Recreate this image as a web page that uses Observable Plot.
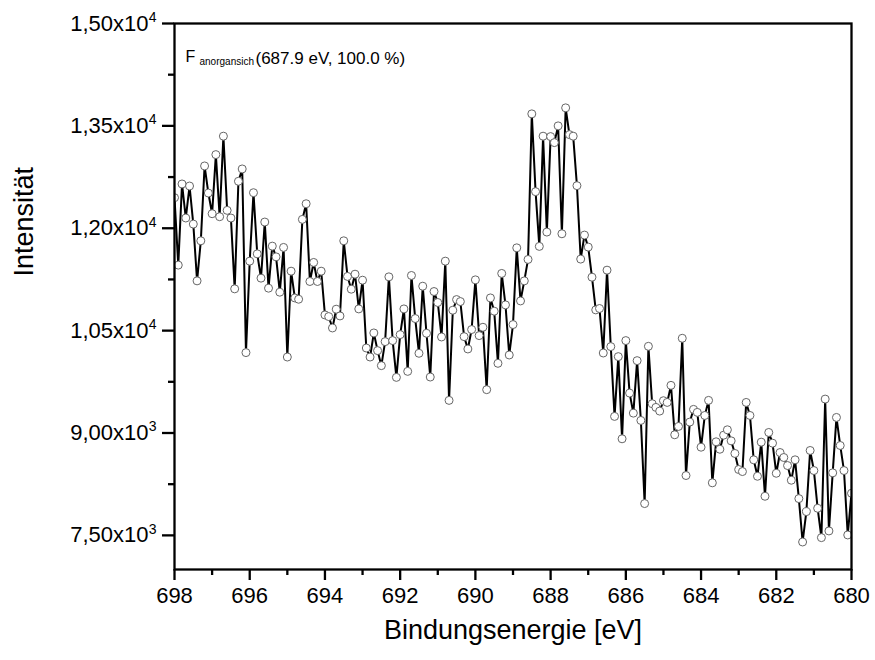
<!DOCTYPE html>
<html>
<head>
<meta charset="utf-8">
<script src="https://cdn.jsdelivr.net/npm/d3@7"></script>
<script src="https://cdn.jsdelivr.net/npm/@observablehq/plot@0.6"></script>
<style>
  html, body { margin: 0; padding: 0; background: #fff; }
  #chart { width: 875px; height: 660px; }
</style>
</head>
<body>
<div id="chart"></div>
<script>
// Binding energy grid (eV): 0.1 eV step from 698.0 down to 680.0
const energyStart = 698.0;
const energyStep = 0.1;

// Intensity values (counts)
const intensity = [
  12448, 11460, 12649, 12150, 12619, 12061, 11229, 11816, 12913, 12516,
  12213, 13079, 12169, 13349, 12262, 12150, 11112, 12688, 12869, 10178,
  11518, 12521, 11625, 11269, 12091, 11122, 11738, 11581, 11063, 11719,
  10113, 11371, 10979, 10960, 12130, 12359, 11220, 11499, 11220, 11371,
  10730, 10706, 10539, 10814, 10715, 11816, 11294, 11107, 11327, 10818,
  11239, 10245, 10113, 10466, 10207, 9987, 10339, 11288, 10354, 9815,
  10442, 10818, 9903, 11308, 10677, 10168, 11151, 10461, 9820, 11073,
  10912, 10407, 11518, 9478, 10799, 10955, 10926, 10412, 10231, 10516,
  11244, 10427, 10549, 9635, 10979, 10785, 10021, 11338, 10877, 10143,
  10589, 11713, 10935, 11229, 11543, 13676, 12536, 11734, 13349, 11944,
  13343, 13255, 13500, 11919, 13764, 13372, 13349, 12624, 11548, 11900,
  11724, 11283, 10804, 10824, 10172, 11386, 10266, 9243, 10119, 8915,
  10354, 9585, 9291, 10060, 9184, 7966, 10270, 9429, 9375, 9321,
  9473, 9448, 9698, 8974, 9096, 10388, 8377, 9160, 9346, 9302,
  8792, 9257, 9478, 8270, 8871, 8762, 8968, 9047, 8885, 8700,
  8465, 8435, 9448, 9257, 8607, 8366, 8866, 8073, 9008, 8851,
  8410, 8714, 8641, 8523, 8308, 8607, 8039, 7403, 7848, 8744,
  8450, 7897, 7467, 9497, 7565, 8416, 9228, 8817, 8450, 7506,
  8117
];

// Axis ticks and labels
const xMajorTicks = [698, 696, 694, 692, 690, 688, 686, 684, 682, 680];
const xMinorTicks = [697, 695, 693, 691, 689, 687, 685, 683, 681];
const yMajorTicks = [7500, 9000, 10500, 12000, 13500, 15000];
const yMinorTicks = [8250, 9750, 11250, 12750, 14250];
const yTickMantissa = ["7,50x10", "9,00x10", "1,05x10", "1,20x10", "1,35x10", "1,50x10"];
const yTickExponent = ["3", "3", "4", "4", "4", "4"];

const xTitle = "Bindungsenergie [eV]";
const yTitle = "Intensität";
const annoMain = "F";
const annoSub = "anorgansich";
const annoRest = "(687.9 eV, 100.0 %)";

const data = intensity.map((v, i) => ({ e: +(energyStart - i * energyStep).toFixed(1), v }));
const font = "'Liberation Sans', Arial, Helvetica, sans-serif";
const axisW = 2.3;

const chart = Plot.plot({
  width: 875, height: 660,
  marginLeft: 174, marginRight: 24, marginTop: 23, marginBottom: 91,
  style: { fontFamily: font, background: "#fff", color: "#000", overflow: "visible" },
  x: { domain: [698, 680], label: null },
  y: { domain: [7000, 15000], label: null },
  marks: [
    Plot.line(data, { x: "e", y: "v", stroke: "#000", strokeWidth: 2, clip: true }),
    Plot.dot(data, { x: "e", y: "v", r: 4, fill: "#fff", stroke: "#666", strokeWidth: 1, clip: true }),
    Plot.frame({ stroke: "#000", strokeWidth: axisW }),
    // x axis
    Plot.axisX(xMajorTicks, { anchor: "bottom", tickSize: 11, tickPadding: 7, fontSize: 22, stroke: "#000", strokeWidth: axisW, tickFormat: d => String(d), label: null }),
    Plot.axisX(xMinorTicks, { anchor: "bottom", tickSize: 6, stroke: "#000", strokeWidth: axisW, fill: "none", label: null }),
    // y axis: mantissa, superscript exponent, minor ticks
    Plot.axisY(yMajorTicks, { anchor: "left", tickSize: 12, tickPadding: 14, fontSize: 22, stroke: "#000", strokeWidth: axisW, tickFormat: d => yTickMantissa[yMajorTicks.indexOf(d)], label: null }),
    Plot.axisY(yMajorTicks, { anchor: "left", tickSize: 0, tickPadding: 18, fontSize: 14, dy: -6, tickFormat: d => yTickExponent[yMajorTicks.indexOf(d)], label: null }),
    Plot.axisY(yMinorTicks, { anchor: "left", tickSize: 6, stroke: "#000", strokeWidth: axisW, fill: "none", label: null }),
    // axis titles
    Plot.text([xTitle], { frameAnchor: "bottom", text: d => d, dy: 69, fontSize: 27, fill: "#000" }),
    Plot.text([yTitle], { frameAnchor: "left", text: d => d, rotate: -90, dx: -150, dy: -20, fontSize: 27, fill: "#000" }),
    // annotation
    Plot.text([annoMain], { frameAnchor: "top-left", text: d => d, textAnchor: "start", dx: 11, dy: 27, fontSize: 16, fill: "#000" }),
    Plot.text([annoSub], { frameAnchor: "top-left", text: d => d, textAnchor: "start", dx: 25, dy: 34, fontSize: 10, fill: "#000" }),
    Plot.text([annoRest], { frameAnchor: "top-left", text: d => d, textAnchor: "start", dx: 81, dy: 28, fontSize: 17, fill: "#000" })
  ]
});
document.getElementById("chart").appendChild(chart);
</script>
</body>
</html>
